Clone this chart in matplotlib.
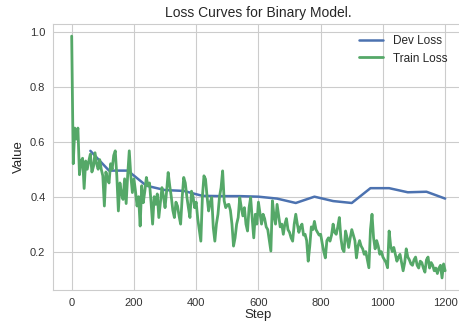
import matplotlib
matplotlib.use('Agg')
import matplotlib.pyplot as plt
import seaborn as sns
import numpy as np

# ---- data ----
dev_steps = [60, 120, 180, 240, 300, 360, 420, 480, 540, 600,
             660, 720, 780, 840, 900, 960, 1020, 1080, 1140, 1200]
dev_loss = [0.567, 0.495, 0.495, 0.44, 0.424, 0.421, 0.403, 0.402, 0.402, 0.400,
            0.393, 0.377, 0.400, 0.384, 0.377, 0.431, 0.431, 0.416, 0.418, 0.393]

train_steps = list(range(0, 1201, 5))
train_loss = [
    0.985, 0.52, 0.65, 0.61, 0.65, 0.48, 0.53, 0.54, 0.43, 0.53,
    0.50, 0.53, 0.555, 0.49, 0.51, 0.56, 0.52, 0.50, 0.535, 0.50,
    0.476, 0.366, 0.49, 0.465, 0.45, 0.52, 0.50, 0.55, 0.567, 0.476,
    0.348, 0.45, 0.41, 0.39, 0.465, 0.375, 0.48, 0.567, 0.476, 0.415,
    0.465, 0.42, 0.366, 0.40, 0.293, 0.44, 0.378, 0.42, 0.47, 0.44,
    0.45, 0.38, 0.30, 0.40, 0.372, 0.41, 0.324, 0.38, 0.433, 0.40,
    0.36, 0.42, 0.488, 0.44, 0.40, 0.35, 0.324, 0.38, 0.366, 0.33,
    0.30, 0.397, 0.47, 0.45, 0.40, 0.36, 0.324, 0.42, 0.40, 0.36,
    0.38, 0.32, 0.28, 0.238, 0.40, 0.476, 0.464, 0.40, 0.348, 0.38,
    0.397, 0.287, 0.238, 0.30, 0.336, 0.40, 0.433, 0.494, 0.385, 0.36,
    0.37, 0.372, 0.35, 0.30, 0.22, 0.25, 0.30, 0.324, 0.397, 0.36,
    0.33, 0.36, 0.30, 0.275, 0.36, 0.397, 0.32, 0.25, 0.336, 0.30,
    0.38, 0.34, 0.30, 0.336, 0.32, 0.29, 0.28, 0.24, 0.202, 0.385,
    0.33, 0.30, 0.372, 0.33, 0.29, 0.30, 0.263, 0.30, 0.32, 0.28,
    0.27, 0.25, 0.238, 0.30, 0.336, 0.30, 0.27, 0.29, 0.30, 0.26,
    0.263, 0.24, 0.165, 0.22, 0.29, 0.28, 0.31, 0.28, 0.27, 0.26,
    0.263, 0.23, 0.20, 0.177, 0.24, 0.25, 0.238, 0.26, 0.30, 0.27,
    0.263, 0.29, 0.324, 0.25, 0.21, 0.20, 0.275, 0.25, 0.215, 0.25,
    0.28, 0.26, 0.24, 0.177, 0.22, 0.24, 0.22, 0.21, 0.19, 0.20,
    0.17, 0.141, 0.28, 0.336, 0.25, 0.21, 0.24, 0.22, 0.19, 0.20,
    0.18, 0.17, 0.16, 0.141, 0.275, 0.22, 0.20, 0.215, 0.19, 0.165,
    0.18, 0.19, 0.16, 0.13, 0.16, 0.21, 0.18, 0.17, 0.155, 0.15,
    0.17, 0.18, 0.15, 0.14, 0.165, 0.16, 0.14, 0.125, 0.17, 0.18,
    0.14, 0.16, 0.15, 0.13, 0.14, 0.12, 0.14, 0.15, 0.104, 0.155,
    0.13,
]

sns.set_style('whitegrid')
plt.rcParams['font.family'] = ['Liberation Sans', 'DejaVu Sans']

fig = plt.figure(figsize=(4.59, 3.29), dpi=100)
ax = fig.add_axes([0.1155, 0.1185, 0.895, 0.8085])

ax.plot(dev_steps, dev_loss, color='#4C72B0', linewidth=1.8, label='Dev Loss')
ax.plot(train_steps, train_loss, color='#55A868', linewidth=2.0, label='Train Loss')

ax.set_title('Loss Curves for Binary Model.', fontsize=10, color='#262626', pad=5)
ax.set_xlabel('Step', fontsize=9.5, color='#262626', labelpad=1)
ax.set_ylabel('Value', fontsize=9.5, color='#262626', labelpad=4)
ax.tick_params(labelsize=8, colors='#333333', pad=2)
ax.set_yticks([0.2, 0.4, 0.6, 0.8, 1.0])
ax.set_xticks([0, 200, 400, 600, 800, 1000, 1200])
ax.legend(loc='upper right', frameon=False, fontsize=8.5,
          bbox_to_anchor=(0.985, 1.0))

fig.savefig('out.png', dpi=100)
